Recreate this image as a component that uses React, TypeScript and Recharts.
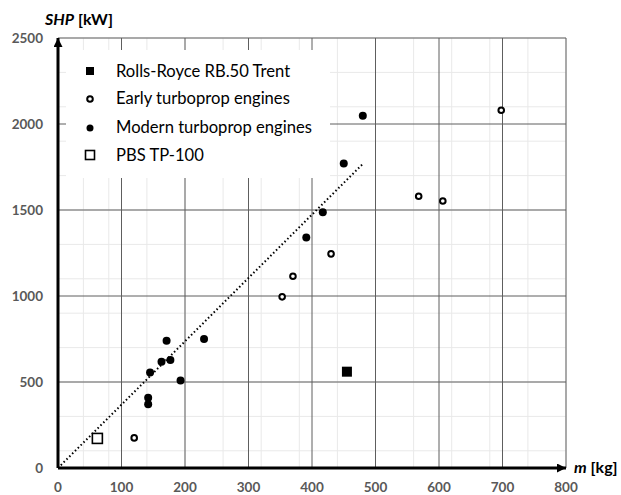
import React from 'react';
import {
  ScatterChart,
  Scatter,
  XAxis,
  YAxis,
  CartesianGrid,
  Legend,
  ReferenceLine,
} from 'recharts';

// engine mass [kg] vs shaft power [kW]
const rollsRoyce = [{ m: 455, shp: 560 }];

const earlyEngines = [
  { m: 120, shp: 175 },
  { m: 353, shp: 995 },
  { m: 370, shp: 1115 },
  { m: 430, shp: 1245 },
  { m: 568, shp: 1580 },
  { m: 606, shp: 1552 },
  { m: 698, shp: 2080 },
];

const modernEngines = [
  { m: 142, shp: 408 },
  { m: 142, shp: 370 },
  { m: 145, shp: 555 },
  { m: 163, shp: 618 },
  { m: 177, shp: 628 },
  { m: 171, shp: 740 },
  { m: 193, shp: 508 },
  { m: 230, shp: 750 },
  { m: 391, shp: 1340 },
  { m: 417, shp: 1487 },
  { m: 450, shp: 1770 },
  { m: 480, shp: 2048 },
];

const pbsTP100 = [{ m: 62, shp: 172 }];

const trendLine = [
  { m: 0, shp: 0 },
  { m: 480, shp: 1768 },
];

const xTicks = [0, 100, 200, 300, 400, 500, 600, 700, 800];
const yTicks = [0, 500, 1000, 1500, 2000, 2500];
const xMinor = Array.from({ length: 41 }, (_, i) => i * 20);
const yMinor = Array.from({ length: 26 }, (_, i) => i * 100);

const legendItems = [
  { label: 'Rolls-Royce RB.50 Trent', marker: 'filledSquare' },
  { label: 'Early turboprop engines', marker: 'openCircle' },
  { label: 'Modern turboprop engines', marker: 'filledCircle' },
  { label: 'PBS TP-100', marker: 'openSquare' },
];

const FONT = 'Lato, "Open Sans", sans-serif';
const TICK_COLOR = '#595959';

const drawMarker = (kind: string, cx: number, cy: number, big = true) => {
  switch (kind) {
    case 'filledSquare': {
      const s = big ? 10 : 8;
      return <rect x={cx - s / 2} y={cy - s / 2} width={s} height={s} fill="#000" />;
    }
    case 'openSquare': {
      const s = big ? 10 : 9;
      return <rect x={cx - s / 2} y={cy - s / 2} width={s} height={s} fill="#fff" stroke="#000" strokeWidth={1.6} />;
    }
    case 'openCircle':
      return <circle cx={cx} cy={cy} r={2.8} fill="#fff" stroke="#000" strokeWidth={2} />;
    default:
      return <circle cx={cx} cy={cy} r={big ? 4 : 3.5} fill="#000" />;
  }
};

const shapeOf = (kind: string) => (props: any) => (
  <g>{drawMarker(kind, props.cx, props.cy)}</g>
);

const LegendBox = () => {
  const baselines = [27, 54, 83, 111];
  const centers = [21, 49, 78, 105];
  return (
    <svg width={264} height={128} style={{ display: 'block', background: '#fff' }}>
      {legendItems.map((item, i) => (
        <g key={item.label}>
          {drawMarker(item.marker, 24, centers[i], false)}
          <text x={50} y={baselines[i]} fontFamily={FONT} fontSize={16.6} fill="#000">
            {item.label}
          </text>
        </g>
      ))}
    </svg>
  );
};

export default function App() {
  return (
    <div style={{ position: 'absolute', left: 0, top: 0, width: 621, height: 495, background: '#fff' }}>
      <ScatterChart width={621} height={495} margin={{ top: 38, right: 55, left: 0, bottom: 0 }}>
        <defs>
          <marker id="arrowHead" viewBox="0 0 10 10" refX="10" refY="5" markerWidth="10" markerHeight="9"
            markerUnits="userSpaceOnUse" orient="auto-start-reverse">
            <path d="M0,0 L10,5 L0,10 z" fill="#000" />
          </marker>
        </defs>
        <CartesianGrid
          stroke="#e9e9e9"
          strokeWidth={1}
          horizontalValues={yMinor}
          verticalValues={xMinor}
        />
        <CartesianGrid
          stroke="#5e5e5e"
          strokeWidth={1}
          horizontalValues={yTicks.slice(1)}
          verticalValues={xTicks.slice(1)}
          fill="none"
        />
        <XAxis
          type="number"
          dataKey="m"
          domain={[0, 800]}
          ticks={xTicks}
          height={27}
          tickLine={false}
          tickMargin={8}
          axisLine={{ stroke: '#000', strokeWidth: 3, markerEnd: 'url(#arrowHead)' }}
          tick={{ fill: TICK_COLOR, fontSize: 13.5, fontWeight: 700, fontFamily: FONT }}
          label={{
            content: () => (
              <text x={574} y={473} fontFamily={FONT} fontSize={16} fontWeight={700} fill="#000">
                <tspan fontStyle="italic">m</tspan> [kg]
              </text>
            ),
          }}
        />
        <YAxis
          type="number"
          dataKey="shp"
          domain={[0, 2500]}
          ticks={yTicks}
          width={58}
          tickLine={false}
          tickMargin={9}
          axisLine={{ stroke: '#000', strokeWidth: 3, markerStart: 'url(#arrowHead)' }}
          tick={{ fill: TICK_COLOR, fontSize: 13.5, fontWeight: 700, fontFamily: FONT }}
          label={{
            content: () => (
              <text x={45} y={25} fontFamily={FONT} fontSize={16} fontWeight={700} fill="#000">
                <tspan fontStyle="italic">SHP</tspan> [kW]
              </text>
            ),
          }}
        />
        <Legend
          layout="horizontal"
          verticalAlign="middle"
          align="center"
          content={() => <LegendBox />}
          wrapperStyle={{ left: 66, top: 50, width: 264, height: 128 }}
        />
        <ReferenceLine
          segment={[
            { x: trendLine[0].m, y: trendLine[0].shp },
            { x: trendLine[1].m, y: trendLine[1].shp },
          ]}
          stroke="#000"
          strokeWidth={2}
          strokeDasharray="1.5 2.5"
        />
        <Scatter name="Rolls-Royce RB.50 Trent" data={rollsRoyce} shape={shapeOf('filledSquare')} isAnimationActive={false} />
        <Scatter name="Early turboprop engines" data={earlyEngines} shape={shapeOf('openCircle')} isAnimationActive={false} />
        <Scatter name="Modern turboprop engines" data={modernEngines} shape={shapeOf('filledCircle')} isAnimationActive={false} />
        <Scatter name="PBS TP-100" data={pbsTP100} shape={shapeOf('openSquare')} isAnimationActive={false} />
      </ScatterChart>
    </div>
  );
}
